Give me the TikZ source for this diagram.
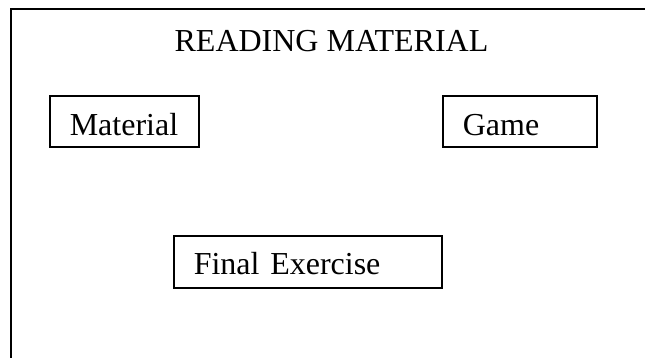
\documentclass[tikz,border=0pt]{standalone}
\usepackage{fontspec}
\setmainfont{Liberation Serif}
\begin{document}
\begin{tikzpicture}[x=1pt,y=-1pt,
  framestyle/.style={line width=2pt, line cap=rect},
  boxstyle/.style={draw, line width=1.6pt, inner ysep=0pt, align=left,
    font=\fontsize{32}{36}\selectfont, anchor=north west, inner xsep=20pt},
  titlestyle/.style={font=\fontsize{32}{36}\selectfont, inner sep=0pt, anchor=base}]
\useasboundingbox (0,0) rectangle (645,358);
\coordinate (tr) at (645,9.5);
\coordinate (tl) at (11,9.5);
\coordinate (bl) at (11,358);
\draw[framestyle] (tr) -- (tl) -- (bl);
\node[titlestyle] (title) at (331.5,52) {READING MATERIAL};
\node[boxstyle, text width=109pt, text height=40pt, text depth=11pt] (material) at (49,95) {Material};
\node[boxstyle, text width=114pt, text height=40pt, text depth=11pt] (game) at (442,95) {Game};
\node[boxstyle, text width=228pt, text height=39pt, text depth=13pt] (final) at (173,235) {\mbox{Final Exercise}};
\end{tikzpicture}
\end{document}
